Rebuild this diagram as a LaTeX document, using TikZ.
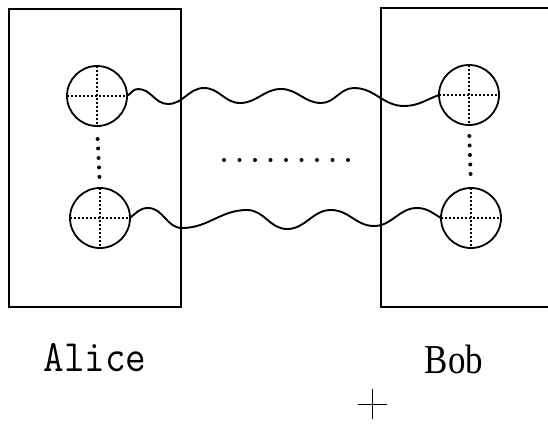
\documentclass[tikz,border=0pt]{standalone}
\usepackage{graphicx}
\usepackage{fontspec}
\newfontfamily\bobfont{Liberation Serif}
\begin{document}
\begin{tikzpicture}[x=1pt,y=-1pt,
  boxst/.style={draw, line width=2.2pt, inner sep=0pt, outer sep=0pt},
  qubit/.style={circle, draw, line width=1.8pt, minimum size=60pt, inner sep=0pt, outer sep=0pt,
    path picture={\draw[line width=1.5pt, dash pattern=on 1.5pt off 2.5pt]
      (path picture bounding box.north) -- (path picture bounding box.south)
      (path picture bounding box.west) -- (path picture bounding box.east);}},
  wave/.style={line width=1.9pt},
  vdots/.style={line width=4pt, line cap=round, dash pattern=on 0pt off 9.5pt},
  lab/.style={font=\ttfamily\fontsize{40}{40}\selectfont, anchor=base, inner sep=0pt},
  blab/.style={font=\bobfont\fontsize{38}{38}\selectfont, anchor=base, inner sep=0pt}
]
\useasboundingbox (0,0) rectangle (548,423);
\clip (0,0) rectangle (548,423);

% boxes
\node[boxst, minimum width=172pt, minimum height=298pt] (alicebox) at (95,158) {};
\node[boxst, minimum width=180pt, minimum height=299pt] (bobbox) at (471,157.5) {};

% qubits
\node[qubit] (tl) at (97,96) {};
\node[qubit] (bl) at (100,218) {};
\node[qubit] (tr) at (469,95) {};
\node[qubit] (br) at (471,218) {};

% vertical dots
\draw[vdots, shorten <=13pt, shorten >=10pt] (tl.south) -- (bl.north);
\draw[vdots, shorten <=11pt, shorten >=8pt] (tr.south) -- (br.north);

% middle dots
\foreach \i in {0,...,8} \fill ({224+15.5*\i},160) circle (2pt);

% waves
\draw[wave] (tl.east) to[out=30,in=180] (138,89) to[out=0,in=180] (168,104)
  to[out=0,in=180] (204,88) to[out=0,in=180] (240,103) to[out=0,in=180] (281,89)
  to[out=0,in=180] (321,103) to[out=0,in=180] (354,88) to[out=0,in=180] (404,106)
  to[out=0,in=200] (tr.west);
\draw[wave] (bl.east) to[out=40,in=180] (148,208) to[out=0,in=180] (182,228)
  to[out=0,in=180] (247,210) to[out=0,in=180] (287,229) to[out=0,in=180] (331,210)
  to[out=0,in=180] (374,226) to[out=0,in=180] (417,208) to[out=0,in=150] (br.west);

% labels
\node[lab] (alice) at (95,371) {\scalebox{1}[1.12]{Alice}};
\node[blab] (bob) at (454,373) {\scalebox{0.92}[1.08]{Bob}};

% small cross
\draw[line width=0.6pt] (358,404) -- (387,404) (372,389) -- (372,419);
\end{tikzpicture}
\end{document}
